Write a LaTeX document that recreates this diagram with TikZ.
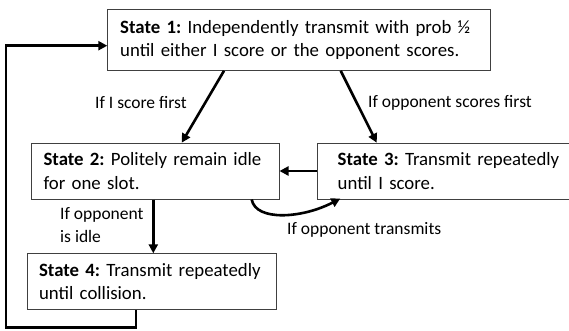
\documentclass[tikz,border=0pt]{standalone}
\usepackage{fontspec}
\setmainfont{Carlito}
\usetikzlibrary{arrows.meta,calc}
\begin{document}
\frenchspacing
\begin{tikzpicture}[x=1pt,y=-1pt,
  statebox/.style={draw=black!75,line width=0.8pt,fill=white,anchor=north west,
    inner xsep=12pt,inner ysep=0pt,align=left,
    font=\fontsize{18.8}{23.3}\selectfont\frenchspacing},
  lab/.style={font=\fontsize{17.5}{23.5}\selectfont\frenchspacing,inner sep=0pt,align=left},
  flow/.style={line width=2.6pt,-{Triangle[length=9pt,width=9pt]}}
]
\useasboundingbox (0,0) rectangle (569,330);
\node[statebox,minimum width=382pt,minimum height=61pt,text width=358pt,inner xsep=12.5pt] (s1) at (107.3,9)
  {\textbf{State 1:} Independently transmit with prob ½\\until either I score or the opponent scores.};
\node[statebox,minimum width=248pt,minimum height=56pt,text width=223pt,inner xsep=12.5pt] (s2) at (30.7,142.7)
  {\textbf{State 2:} Politely remain idle\\for one slot.};
\node[statebox,minimum width=250pt,minimum height=56pt,text width=230pt,inner xsep=20pt] (s3) at (317.3,142.7)
  {\textbf{State 3:} Transmit repeatedly\\until I score.};
\node[statebox,minimum width=249pt,minimum height=56pt,text width=225pt,inner xsep=11.6pt] (s4) at (26.7,253.3)
  {\textbf{State 4:} Transmit repeatedly\\until collision.};
% labels
\node[lab,anchor=west] (l1) at (95,103) {If I score first};
\node[lab,anchor=west] (l2) at (368,103) {If opponent scores first};
\node[lab,anchor=west] (l3) at (60,225) {If opponent\\is idle};
\node[lab,anchor=west] (l4) at (287,230) {If opponent transmits};
% connectors
\draw[flow] ([xshift=116.7pt]s1.south west) -- ([xshift=151pt]s2.north west);
\draw[flow] ([xshift=233.4pt]s1.south west) -- ([xshift=59.4pt]s3.north west);
\draw[flow] (s3.west |- 0,171) -- (s2.east |- 0,171);
\draw[flow] ([xshift=122.6pt]s2.south west) -- ([xshift=126.6pt]s4.north west);
\draw[flow] ([xshift=221pt]s2.south west) .. controls +(4,22) and +(-38,20) .. ([xshift=23pt,yshift=1pt]s3.south west);
\coordinate (c1) at (6,327.3);
\coordinate (c2) at (6,45.7);
\draw[flow] ([xshift=109.3pt]s4.south west) |- (c1) -- (c2) -- (s1.west |- c2);
\end{tikzpicture}
\end{document}
